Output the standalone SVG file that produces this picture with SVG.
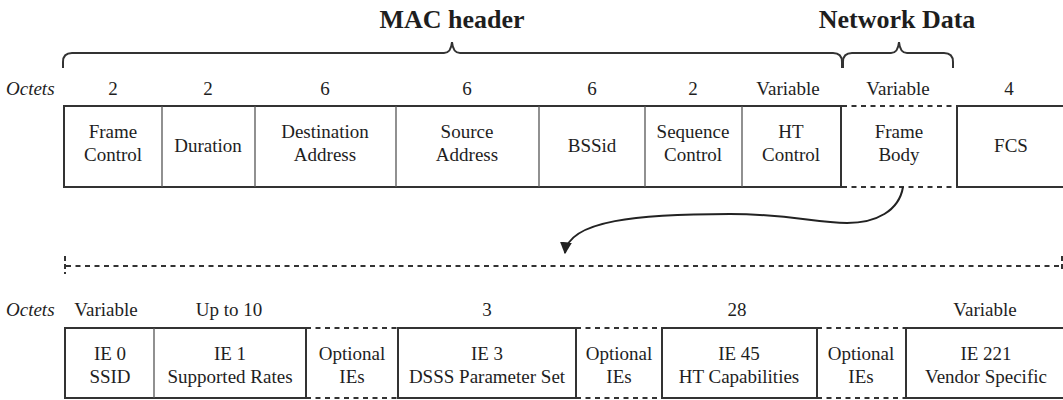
<svg xmlns="http://www.w3.org/2000/svg" width="1063" height="400" viewBox="0 0 1063 400">
<defs>
<style>
text{font-family:"Liberation Serif","Times New Roman",serif;fill:#1e1e1e;font-size:19px;text-anchor:middle}
.title{font-size:26px;font-weight:bold}
.oct{font-style:italic;text-anchor:start}
.box{fill:none;stroke:#333;stroke-width:2}
.div{stroke:#555;stroke-width:1.3}
.dash{fill:none;stroke:#333;stroke-width:2;stroke-dasharray:5 4.5}
.brace{fill:none;stroke:#333;stroke-width:2}
.conn{fill:none;stroke:#222;stroke-width:2}
</style>
<marker id="ah" viewBox="0 0 10 10" refX="9" refY="5" markerWidth="6" markerHeight="6" orient="auto" markerUnits="strokeWidth">
<path d="M0,0 L10,5 L0,10 z" fill="#222"/>
</marker>
</defs>
<rect width="1063" height="400" fill="#fff"/>

<g id="titles">
<text class="title" x="452" y="28">MAC header</text>
<text class="title" x="897" y="28">Network Data</text>
<path class="brace" d="M63,68 L63,62 Q63,53 72,53 L444,53 Q451,53 452,42 Q453,53 460,53 L833,53 Q842,53 842,62 L842,68"/>
<path class="brace" d="M843,68 L843,62 Q843,53 852,53 L891,53 Q898,53 899,42 Q900,53 907,53 L944,53 Q953,53 953,62 L953,68"/>
</g>

<g id="octets-top">
<text class="oct" x="6" y="95">Octets</text>
<text x="113" y="95">2</text>
<text x="208" y="95">2</text>
<text x="325" y="95">6</text>
<text x="467" y="95">6</text>
<text x="592" y="95">6</text>
<text x="693" y="95">2</text>
<text x="788" y="95">Variable</text>
<text x="898" y="95">Variable</text>
<text x="1009" y="95">4</text>
</g>

<g id="mac-header">
<rect class="box" x="64" y="106" width="777" height="81"/>
<line class="div" x1="162" y1="106" x2="162" y2="187"/>
<line class="div" x1="255" y1="106" x2="255" y2="187"/>
<line class="div" x1="396" y1="106" x2="396" y2="187"/>
<line class="div" x1="539" y1="106" x2="539" y2="187"/>
<line class="div" x1="645" y1="106" x2="645" y2="187"/>
<line class="div" x1="742" y1="106" x2="742" y2="187"/>
</g>
<g id="frame-control"><text x="113" y="138">Frame</text><text x="113" y="161">Control</text></g>
<g id="duration"><text x="208" y="152">Duration</text></g>
<g id="destination"><text x="325" y="138">Destination</text><text x="325" y="161">Address</text></g>
<g id="source"><text x="467" y="138">Source</text><text x="467" y="161">Address</text></g>
<g id="bssid"><text x="592" y="152">BSSid</text></g>
<g id="sequence"><text x="693" y="138">Sequence</text><text x="693" y="161">Control</text></g>
<g id="ht-control"><text x="791" y="138">HT</text><text x="791" y="161">Control</text></g>
<g id="frame-body">
<line class="dash" x1="842" y1="106" x2="956" y2="106"/>
<line class="dash" x1="842" y1="187" x2="956" y2="187"/>
<text x="899" y="138">Frame</text><text x="899" y="161">Body</text>
</g>
<g id="fcs">
<rect class="box" x="957" y="106" width="110" height="81"/>
<text x="1011" y="152">FCS</text>
</g>

<g id="connectors">
<path class="conn" d="M903,187 C899,211 876,223 847,223 C815,223 790,214 730,214 C640,214 568,220 565,253" marker-end="url(#ah)"/>
</g>

<g id="expansion">
<line class="dash" x1="66" y1="266" x2="1063" y2="266"/>
<line class="dash" x1="65" y1="256" x2="65" y2="274" style="stroke-dasharray:5 3"/>
<line class="dash" x1="1062" y1="256" x2="1062" y2="272" style="stroke-dasharray:5 3"/>
</g>

<g id="octets-bottom">
<text class="oct" x="6" y="316">Octets</text>
<text x="106" y="316">Variable</text>
<text x="229" y="316">Up to 10</text>
<text x="487" y="316">3</text>
<text x="737" y="316">28</text>
<text x="985" y="316">Variable</text>
</g>

<g id="ie0-ie1">
<rect class="box" x="65" y="328" width="241" height="70"/>
<line class="div" x1="154" y1="328" x2="154" y2="398"/>
</g>
<g id="ie0"><text x="110" y="360">IE 0</text><text x="110" y="383">SSID</text></g>
<g id="ie1"><text x="230" y="360">IE 1</text><text x="230" y="383">Supported Rates</text></g>
<g id="opt1">
<line class="dash" x1="306" y1="328" x2="398" y2="328"/>
<line class="dash" x1="306" y1="398" x2="398" y2="398"/>
<text x="352" y="360">Optional</text><text x="352" y="383">IEs</text>
</g>
<g id="ie3">
<rect class="box" x="398" y="328" width="178" height="70"/>
<text x="487" y="360">IE 3</text><text x="487" y="383">DSSS Parameter Set</text>
</g>
<g id="opt2">
<line class="dash" x1="576" y1="328" x2="662" y2="328"/>
<line class="dash" x1="576" y1="398" x2="662" y2="398"/>
<text x="619" y="360">Optional</text><text x="619" y="383">IEs</text>
</g>
<g id="ie45">
<rect class="box" x="662" y="328" width="155" height="70"/>
<text x="739" y="360">IE 45</text><text x="739" y="383">HT Capabilities</text>
</g>
<g id="opt3">
<line class="dash" x1="817" y1="328" x2="906" y2="328"/>
<line class="dash" x1="817" y1="398" x2="906" y2="398"/>
<text x="861" y="360">Optional</text><text x="861" y="383">IEs</text>
</g>
<g id="ie221">
<rect class="box" x="906" y="328" width="162" height="70"/>
<text x="986" y="360">IE 221</text><text x="986" y="383">Vendor Specific</text>
</g>
</svg>
